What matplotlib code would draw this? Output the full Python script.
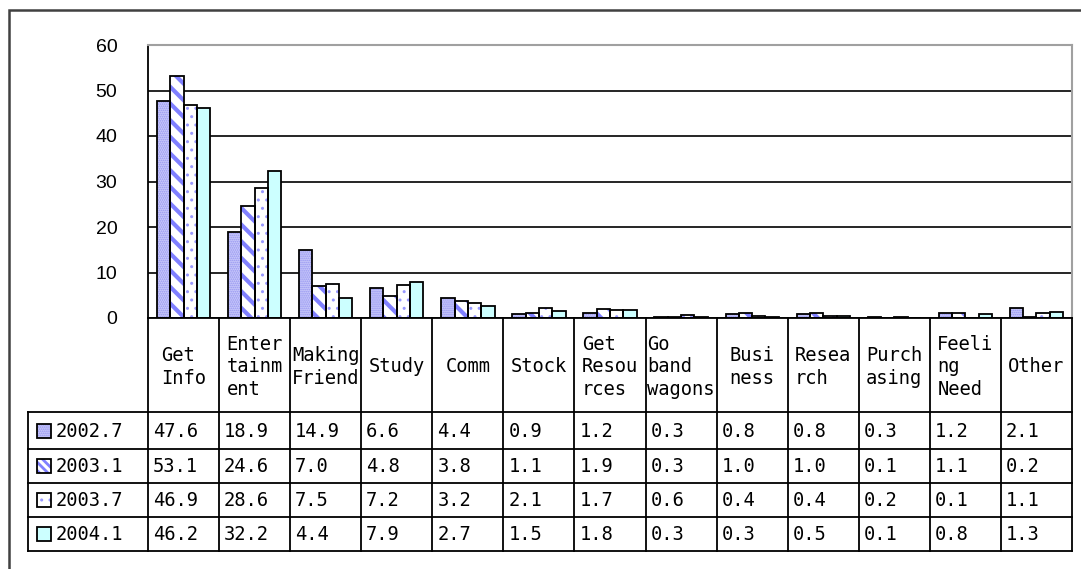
import matplotlib
matplotlib.use("Agg")
import matplotlib.pyplot as plt
from matplotlib.patches import Rectangle

# donnees
categories = ["Get\nInfo", "Enter\ntainm\nent", "Making\nFriend", "Study", "Comm",
              "Stock", "Get\nResou\nrces", "Go\nband\nwagons", "Busi\nness",
              "Resea\nrch", "Purch\nasing", "Feeli\nng\nNeed", "Other"]
periods = ["2002.7", "2003.1", "2003.7", "2004.1"]
v2002_7 = [47.6, 18.9, 14.9, 6.6, 4.4, 0.9, 1.2, 0.3, 0.8, 0.8, 0.3, 1.2, 2.1]
v2003_1 = [53.1, 24.6, 7.0, 4.8, 3.8, 1.1, 1.9, 0.3, 1.0, 1.0, 0.1, 1.1, 0.2]
v2003_7 = [46.9, 28.6, 7.5, 7.2, 3.2, 2.1, 1.7, 0.6, 0.4, 0.4, 0.2, 0.1, 1.1]
v2004_1 = [46.2, 32.2, 4.4, 7.9, 2.7, 1.5, 1.8, 0.3, 0.3, 0.5, 0.1, 0.8, 1.3]
series = [v2002_7, v2003_1, v2003_7, v2004_1]
yticks = [0, 10, 20, 30, 40, 50, 60]

# styles des series : fond, motif, couleur du motif, epaisseur du motif
styles = [("#c8c8fa", "........", "#9494f0", 0.8),
          ("white", "\\\\", "#8080ff", 3.0),
          ("white", "..", "#9999ff", 1.0),
          ("#ccffff", None, None, 1.0)]

W, H = 1081, 569
mono = "DejaVu Sans Mono"
fs = 13.5
fig = plt.figure(figsize=(W / 100, H / 100), dpi=100)

# cadre exterieur (coupe a droite et en bas)
fig.patches.append(Rectangle((9 / W, -0.05), 1.1, (H - 10) / H + 0.05, transform=fig.transFigure,
                             fill=False, edgecolor="#404040", linewidth=1.8))

ax = fig.add_axes([148 / W, (H - 318) / H, 924 / W, 273 / H])
n = len(categories)
bw = 0.1875
for j, vals in enumerate(series):
    fc, hatch, hc, hlw = styles[j]
    xs = [i + 0.5 + (j - 1.5) * bw for i in range(n)]
    with plt.rc_context({"hatch.linewidth": hlw}):
        ax.bar(xs, vals, bw, color=fc, hatch=hatch, edgecolor=hc if hc else fc,
               linewidth=0, zorder=2)
    ax.bar(xs, vals, bw, fill=False, edgecolor="black", linewidth=1.3, zorder=3)

ax.set_xlim(0, n)
ax.set_ylim(0, 60)
ax.set_yticks(yticks)
ax.set_xticks([])
ax.yaxis.grid(True, color="black", linewidth=1.2, zorder=1)
ax.set_axisbelow(True)
ax.tick_params(axis="y", length=0, pad=22, labelsize=14)
for lab in ax.get_yticklabels():
    lab.set_family("Liberation Sans")
ax.spines["left"].set_color("black")
ax.spines["left"].set_linewidth(1.3)
ax.spines["bottom"].set_linewidth(1.3)
ax.spines["top"].set_color("#a0a0a0")
ax.spines["right"].set_color("#a0a0a0")
ax.spines["top"].set_linewidth(1.5)
ax.spines["right"].set_linewidth(1.5)

# table sous le graphique
x0 = -(148 - 28) / (924 / n)
tb = fig.add_axes([28 / W, (H - 551) / H, (1072 - 28) / W, 233 / H])
tb.set_xlim(x0, n)
tb.set_ylim(233, 0)
tb.axis("off")
rows = [94, 131, 165, 199, 233]
lw = 1.3
for i in range(n + 1):
    tb.plot([i, i], [0, 233], color="black", linewidth=lw, clip_on=False)
for y in rows:
    tb.plot([x0, n], [y, y], color="black", linewidth=lw, clip_on=False)
tb.plot([x0, x0], [rows[0], rows[-1]], color="black", linewidth=lw, clip_on=False)

for i, cat in enumerate(categories):
    tb.text(i + 0.5, 49, cat, ha="center", va="center", multialignment="left",
            family=mono, fontsize=fs, linespacing=1.25,
            bbox=dict(facecolor="white", edgecolor="none", pad=0))

cw = 924 / n
for j, vals in enumerate(series):
    yc = (rows[j] + rows[j + 1]) / 2
    fc, hatch, hc, hlw = styles[j]
    khatch = "\\\\\\\\" if j == 1 else hatch
    with plt.rc_context({"hatch.linewidth": min(hlw, 2.0)}):
        tb.add_patch(Rectangle((x0 + 9 / cw, yc - 7), 14 / cw, 14, facecolor=fc, hatch=khatch,
                               edgecolor=hc if hc else fc, linewidth=0))
    tb.add_patch(Rectangle((x0 + 9 / cw, yc - 7), 14 / cw, 14, fill=False,
                           edgecolor="black", linewidth=1.3))
    tb.text(x0 + 28 / cw, yc + 1, periods[j], ha="left", va="center", family=mono, fontsize=fs)
    for i, v in enumerate(vals):
        tb.text(i + 5 / cw, yc + 1, f"{v:.1f}", ha="left", va="center", family=mono, fontsize=fs)

fig.savefig("out.png", dpi=100)
